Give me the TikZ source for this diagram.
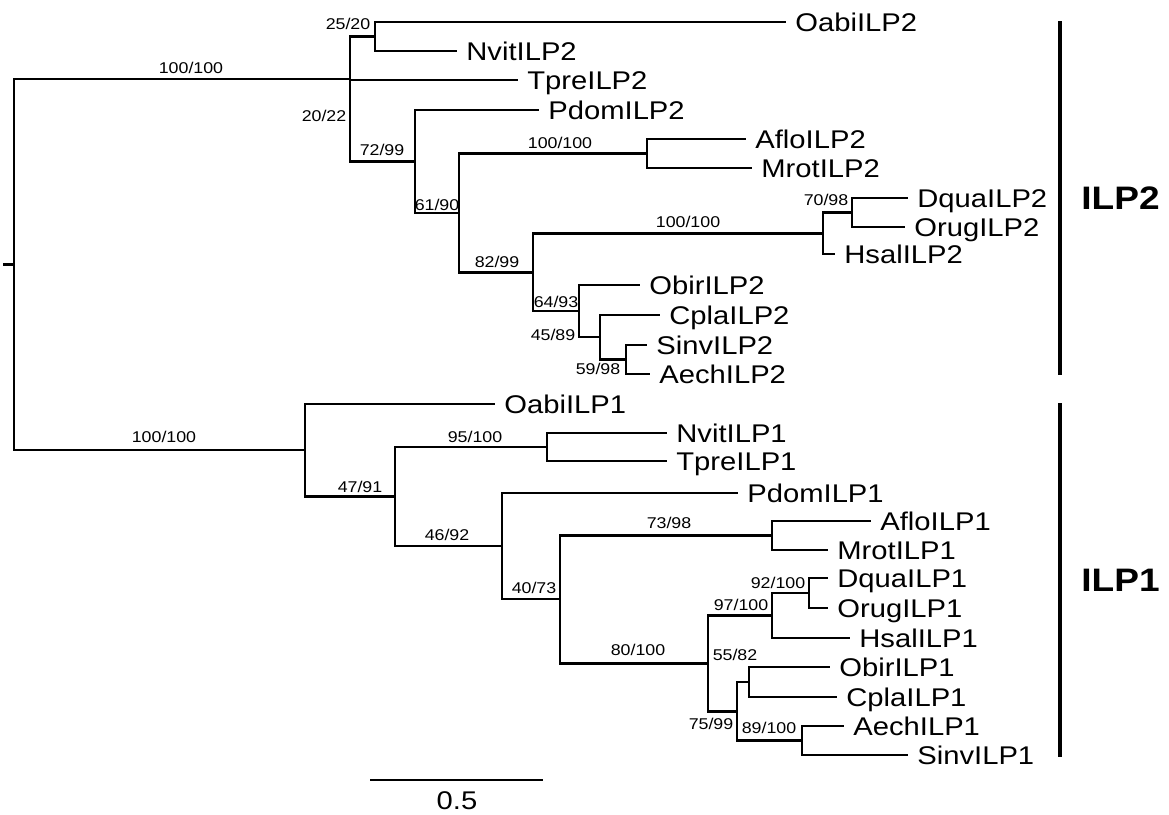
\documentclass[tikz,border=0pt]{standalone}
\usepackage{fontspec}
\setmainfont{Liberation Sans}
\newfontfamily\treefont[FakeStretch=1.14]{Liberation Sans}
\usetikzlibrary{positioning}

\begin{document}
\begin{tikzpicture}[x=1pt,y=-1pt,line width=2.8pt,
  leaf/.style={anchor=west,inner xsep=8pt,inner ysep=0pt,font=\fontsize{25.6}{30}\treefont,text height=18.3pt,text depth=0pt},
  bs/.style={inner sep=0pt,font=\fontsize{15.6}{18}\treefont,text height=11pt,text depth=0pt},
  clade/.style={anchor=west,inner sep=0pt,font=\fontsize{32.5}{36}\treefont\bfseries,text height=23.3pt,text depth=0pt},
  bar/.style={line width=3.6pt}]
\useasboundingbox (0,0) rectangle (1169,814);
\coordinate (rt) at (3,264.5);\coordinate (r) at (14,264.5);
\coordinate (A) at (350,79);\coordinate (B) at (375,36.5);\coordinate (C) at (415,161.5);
\coordinate (D) at (459,213);\coordinate (F) at (647,153.5);\coordinate (E) at (533,272.5);
\coordinate (G) at (823,233.5);\coordinate (H) at (852,212.5);\coordinate (I) at (579,311);
\coordinate (J) at (600,337);\coordinate (K) at (626,359.5);
\coordinate (L) at (305,450);\coordinate (M) at (395,496.5);\coordinate (N) at (547,447);
\coordinate (O) at (502,546);\coordinate (P) at (560,599);\coordinate (Q) at (772,535.5);
\coordinate (T) at (708,663.5);\coordinate (S) at (772,615.5);\coordinate (R) at (809,593);
\coordinate (U) at (737,711.5);\coordinate (V) at (749,682);\coordinate (W) at (802,740.5);
\node[leaf] (oabiA) at (786,22) {OabiILP2};
\node[leaf] (nvitA) at (457,51) {NvitILP2};
\node[leaf] (tpreA) at (518,80) {TpreILP2};
\node[leaf] (pdomA) at (539,110) {PdomILP2};
\node[leaf] (afloA) at (746,139) {AfloILP2};
\node[leaf] (mrotA) at (752,168) {MrotILP2};
\node[leaf] (dquaA) at (908,198) {DquaILP2};
\node[leaf] (orugA) at (905,227) {OrugILP2};
\node[leaf] (hsalA) at (835,254) {HsalILP2};
\node[leaf] (obirA) at (640,285) {ObirILP2};
\node[leaf] (cplaA) at (660,315) {CplaILP2};
\node[leaf] (sinvA) at (647,345) {SinvILP2};
\node[leaf] (aechA) at (650,374) {AechILP2};
\node[leaf] (oabiB) at (495,404) {OabiILP1};
\node[leaf] (nvitB) at (667,433) {NvitILP1};
\node[leaf] (tpreB) at (667,461) {TpreILP1};
\node[leaf] (pdomB) at (738,493) {PdomILP1};
\node[leaf] (afloB) at (871,521) {AfloILP1};
\node[leaf] (mrotB) at (828,550) {MrotILP1};
\node[leaf] (dquaB) at (828,578) {DquaILP1};
\node[leaf] (orugB) at (828,608) {OrugILP1};
\node[leaf] (hsalB) at (850,638) {HsalILP1};
\node[leaf] (obirB) at (830,667) {ObirILP1};
\node[leaf] (cplaB) at (837,697) {CplaILP1};
\node[leaf] (aechB) at (844,726) {AechILP1};
\node[leaf] (sinvB) at (908,755) {SinvILP1};
\draw (rt) -- (r);
\foreach \p/\c in {r/A,r/L,A/B,A/tpreA.west,A/C,B/oabiA.west,B/nvitA.west,C/pdomA.west,C/D,
  D/F,D/E,F/afloA.west,F/mrotA.west,E/G,E/I,G/H,G/hsalA.west,H/dquaA.west,H/orugA.west,
  I/obirA.west,I/J,J/cplaA.west,J/K,K/sinvA.west,K/aechA.west,
  L/oabiB.west,L/M,M/N,M/O,N/nvitB.west,N/tpreB.west,O/pdomB.west,O/P,P/Q,P/T,
  Q/afloB.west,Q/mrotB.west,T/S,T/U,S/R,S/hsalB.west,R/dquaB.west,R/orugB.west,
  U/V,U/W,V/obirB.west,V/cplaB.west,W/aechB.west,W/sinvB.west}
  \draw (\p) |- (\c);
\node[bs] (b1) at (191,68) {100/100};
\node[bs] (b2) at (348,24) {25/20};
\node[bs] (b3) at (324,116) {20/22};
\node[bs] (b4) at (382,150) {72/99};
\node[bs] (b5) at (560,143) {100/100};
\node[bs] (b6) at (437,205) {61/90};
\node[bs] (b7) at (497,262) {82/99};
\node[bs] (b8) at (688,222) {100/100};
\node[bs] (b9) at (826,200) {70/98};
\node[bs] (b10) at (556,302) {64/93};
\node[bs] (b11) at (553,335) {45/89};
\node[bs] (b12) at (598,369) {59/98};
\node[bs] (b13) at (164,437) {100/100};
\node[bs] (b14) at (360,487) {47/91};
\node[bs] (b15) at (475,437) {95/100};
\node[bs] (b16) at (447,535) {46/92};
\node[bs] (b17) at (669,523) {73/98};
\node[bs] (b18) at (534,588) {40/73};
\node[bs] (b19) at (778,583) {92/100};
\node[bs] (b20) at (741,605) {97/100};
\node[bs] (b21) at (638,650) {80/100};
\node[bs] (b22) at (735,655) {55/82};
\node[bs] (b23) at (711,724) {75/99};
\node[bs] (b24) at (769,728) {89/100};
\coordinate (s0) at (370,780);\coordinate (s1) at (543,780);
\draw (s0) -- (s1);
\node[leaf,anchor=center,inner sep=0pt] (sc) at (457,800) {0.5};
\coordinate (g2t) at (1060,21);\coordinate (g2b) at (1060,375);
\coordinate (g1t) at (1060,403);\coordinate (g1b) at (1060,757);
\draw[bar] (g2t) -- (g2b);\draw[bar] (g1t) -- (g1b);
\node[clade] (ilp2) at (1080,198) {ILP2};
\node[clade] (ilp1) at (1080,580) {ILP1};
\end{tikzpicture}
\end{document}
